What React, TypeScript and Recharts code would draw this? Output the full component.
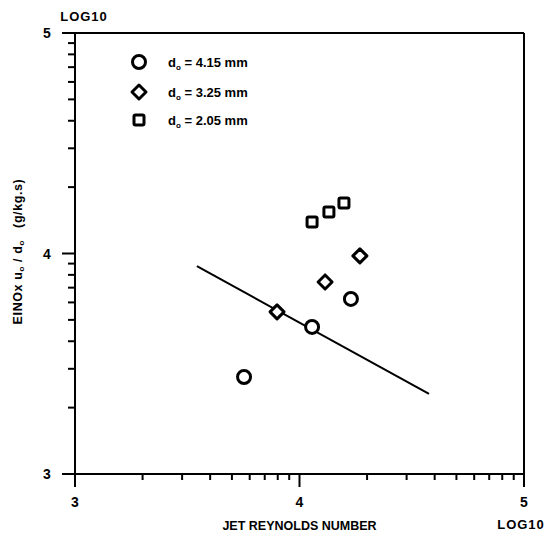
import React from 'react';
import { ScatterChart, Scatter, XAxis, YAxis, ReferenceLine, Legend, Label } from 'recharts';

const circleData = [
  { x: 3.753, y: 3.44 },
  { x: 4.056, y: 3.667 },
  { x: 4.229, y: 3.794 },
];
const diamondData = [
  { x: 3.9, y: 3.735 },
  { x: 4.114, y: 3.871 },
  { x: 4.269, y: 3.989 },
];
const squareData = [
  { x: 4.056, y: 4.143 },
  { x: 4.131, y: 4.188 },
  { x: 4.198, y: 4.229 },
];
const fitLine = [
  { x: 3.543, y: 3.943 },
  { x: 4.577, y: 3.363 },
];
const majorTicks = [3, 4, 5];
const minorSteps = [2, 3, 4, 5, 6, 7, 8, 9];
const legendLabels = ['4.15', '3.25', '2.05'];
const allTicks = [
  ...majorTicks,
  ...[3, 4].flatMap((d) => minorSteps.map((k) => d + Math.log10(k))),
].sort((a, b) => a - b);

const FONT = '"Liberation Sans", Arial, Helvetica, sans-serif';

const isMajor = (v: number) => Math.abs(v - Math.round(v)) < 1e-6;

const XTick = (props: any) => {
  const { x, y, payload } = props;
  const v = payload.value;
  const major = isMajor(v);
  return (
    <g>
      <line x1={x} y1={y} x2={x} y2={y + (major ? 13 : 6)} stroke="#000" strokeWidth={2} />
      {major && (
        <text x={x} y={y + 33} textAnchor="middle" fontSize={14} fontWeight="bold" fontFamily={FONT} fill="#000">
          {Math.round(v)}
        </text>
      )}
    </g>
  );
};

const YTick = (props: any) => {
  const { x, y, payload } = props;
  const v = payload.value;
  const major = isMajor(v);
  return (
    <g>
      <line x1={x} y1={y} x2={x - (major ? 13 : 7)} y2={y} stroke="#000" strokeWidth={2} />
      {major && (
        <text x={x - 28} y={y + 5} textAnchor="middle" fontSize={14} fontWeight="bold" fontFamily={FONT} fill="#000">
          {Math.round(v)}
        </text>
      )}
    </g>
  );
};

const CircleShape = (props: any) => {
  const { cx, cy } = props;
  return <circle cx={cx} cy={cy} r={6.5} fill="#fff" stroke="#000" strokeWidth={3} />;
};
const DiamondShape = (props: any) => {
  const { cx, cy } = props;
  const s = 7;
  return (
    <polygon
      points={`${cx},${cy - s} ${cx + s},${cy} ${cx},${cy + s} ${cx - s},${cy}`}
      fill="#fff"
      stroke="#000"
      strokeWidth={3}
      strokeLinejoin="round"
    />
  );
};
const SquareShape = (props: any) => {
  const { cx, cy } = props;
  const s = 5;
  return <rect x={cx - s} y={cy - s} width={2 * s} height={2 * s} rx={1.5} fill="#fff" stroke="#000" strokeWidth={3} />;
};
const NoShape = () => <g />;

const XTitle = (props: any) => {
  const vb = props.viewBox;
  return (
    <g fontFamily={FONT} fontWeight="bold" fill="#000">
      <text x={vb.x + vb.width / 2} y={vb.y + 56} textAnchor="middle" fontSize={12.5}>
        JET REYNOLDS NUMBER
      </text>
      <text x={vb.x + vb.width - 3} y={vb.y + 55} textAnchor="middle" fontSize={13} letterSpacing={1}>
        LOG10
      </text>
    </g>
  );
};

const YTitle = (props: any) => {
  const vb = props.viewBox;
  const cx = vb.x + 18;
  const cy = vb.y + vb.height / 2 - 2;
  return (
    <g fontFamily={FONT} fontWeight="bold" fill="#000">
      <text
        x={cx}
        y={cy}
        textAnchor="middle"
        dominantBaseline="central"
        fontSize={12.5}
        letterSpacing={0.6}
        transform={`rotate(-90, ${cx}, ${cy})`}
      >
        EINOx u
        <tspan fontSize={8} dy={3}>o</tspan>
        <tspan dy={-3}> / d</tspan>
        <tspan fontSize={8} dy={3}>o</tspan>
        <tspan dy={-3}>{'\u00a0\u00a0\u00a0(g/kg.s)'}</tspan>
      </text>
      <text x={vb.x + 84} y={vb.y - 12} textAnchor="middle" fontSize={13} letterSpacing={1}>
        LOG10
      </text>
    </g>
  );
};

const LegendContent = () => {
  const rows = [0, 30, 58];
  const shapes = [
    <circle key="c" cx={14} cy={17} r={6.5} fill="#fff" stroke="#000" strokeWidth={3} />,
    <polygon key="d" points="14,40 21,47 14,54 7,47" fill="#fff" stroke="#000" strokeWidth={3} strokeLinejoin="round" />,
    <rect key="s" x={9} y={70} width={10} height={10} rx={1.5} fill="#fff" stroke="#000" strokeWidth={3} />,
  ];
  return (
    <svg width={200} height={95} style={{ display: 'block' }}>
      {shapes}
      {legendLabels.map((lab, i) => (
        <text key={lab} x={43} y={17 + rows[i] + 5} fontFamily={FONT} fontWeight="bold" fontSize={13} fill="#000">
          d<tspan fontSize={8} dy={3}>o</tspan>
          <tspan dy={-3}>{` = ${lab} mm`}</tspan>
        </text>
      ))}
    </svg>
  );
};

export default function App() {
  return (
    <div style={{ position: 'absolute', left: 0, top: 0, background: '#fff' }}>
      <ScatterChart width={553} height={537} margin={{ top: 33, right: 29, left: 0, bottom: 0 }}>
        <XAxis
          type="number"
          dataKey="x"
          domain={[3, 5]}
          ticks={allTicks}
          interval={0}
          tick={<XTick />}
          tickLine={false}
          tickSize={0}
          tickMargin={0}
          height={63}
          axisLine={{ stroke: '#000', strokeWidth: 2 }}
          allowDataOverflow
        >
          <Label content={<XTitle />} />
        </XAxis>
        <YAxis
          type="number"
          dataKey="y"
          domain={[3, 5]}
          ticks={allTicks}
          interval={0}
          tick={<YTick />}
          tickLine={false}
          tickSize={0}
          tickMargin={0}
          width={75}
          axisLine={{ stroke: '#000', strokeWidth: 2 }}
          allowDataOverflow
        >
          <Label content={<YTitle />} />
        </YAxis>
        <ReferenceLine y={5} stroke="#000" strokeWidth={2} />
        <ReferenceLine x={5} stroke="#000" strokeWidth={2} />
        <Legend
          layout="horizontal"
          verticalAlign="middle"
          align="center"
          content={<LegendContent />}
          wrapperStyle={{ position: 'absolute', left: 125, top: 45, width: 200, height: 95 }}
        />
        <Scatter
          data={fitLine}
          line={{ stroke: '#000', strokeWidth: 2 }}
          shape={<NoShape />}
          isAnimationActive={false}
          legendType="none"
        />
        <Scatter data={circleData} shape={<CircleShape />} isAnimationActive={false} />
        <Scatter data={diamondData} shape={<DiamondShape />} isAnimationActive={false} />
        <Scatter data={squareData} shape={<SquareShape />} isAnimationActive={false} />
      </ScatterChart>
    </div>
  );
}
